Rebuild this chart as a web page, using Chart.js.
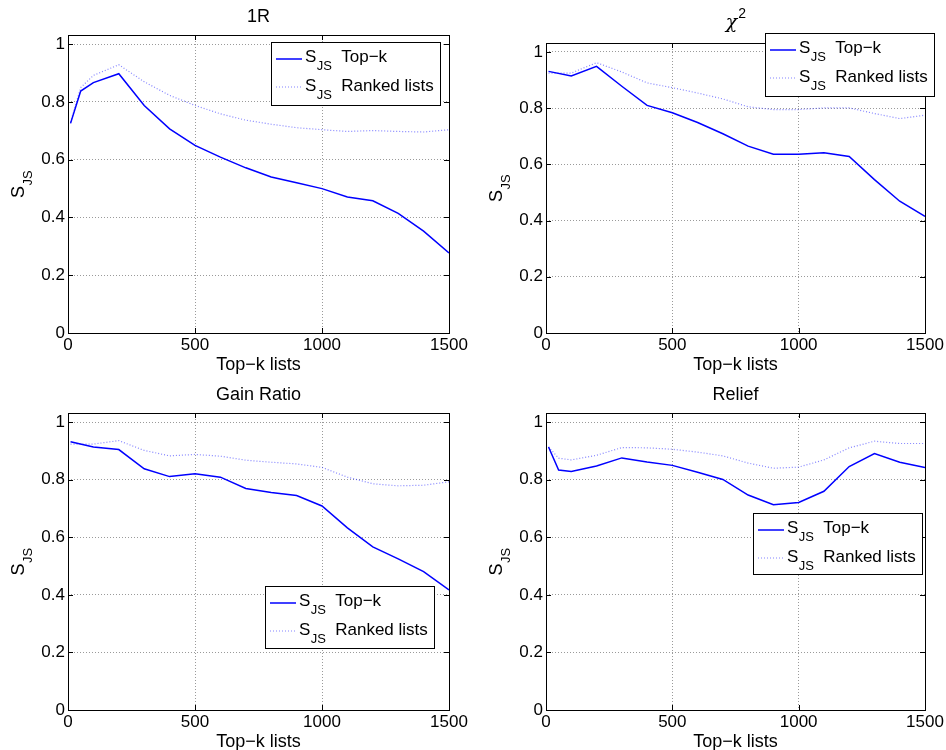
<!DOCTYPE html>
<html>
<head>
<meta charset="utf-8">
<title>S_JS</title>
<script src="https://cdn.jsdelivr.net/npm/chart.js@4.4.0/dist/chart.umd.min.js"></script>
<style>
body { margin: 0; background: #fff; }
#todo { position: relative; width: 946px; height: 750px; }
canvas { position: absolute; }
</style>
</head>
<body>
<div id="todo">
<canvas id="g1" width="473" height="375" style="left:0px;top:0px"></canvas>
<canvas id="g2" width="473" height="375" style="left:473px;top:0px"></canvas>
<canvas id="g3" width="473" height="375" style="left:0px;top:375px"></canvas>
<canvas id="g4" width="473" height="375" style="left:473px;top:375px"></canvas>
</div>
<script>
"use strict";

////////////////////////////////////////////////////// datos
const kLargo = [10, 50, 100, 200, 300, 400, 500, 600, 700, 800, 900, 1000, 1100, 1200, 1300, 1400, 1500];
const kCorto = [10, 100, 200, 300, 400, 500, 600, 700, 800, 900, 1000, 1100, 1200, 1300, 1400, 1500];

const topk1R = [0.726, 0.838, 0.867, 0.898, 0.788, 0.707, 0.650, 0.609, 0.572, 0.540, 0.520, 0.500, 0.471, 0.458, 0.414, 0.353, 0.277];
const rank1R = [0.730, 0.850, 0.892, 0.929, 0.870, 0.823, 0.788, 0.759, 0.737, 0.723, 0.711, 0.704, 0.698, 0.701, 0.698, 0.696, 0.704];

const topkChi = [0.931, 0.915, 0.949, 0.878, 0.810, 0.784, 0.749, 0.709, 0.665, 0.636, 0.636, 0.641, 0.628, 0.546, 0.469, 0.415];
const rankChi = [0.925, 0.925, 0.962, 0.929, 0.890, 0.873, 0.854, 0.833, 0.805, 0.795, 0.795, 0.801, 0.801, 0.781, 0.763, 0.775];

const topkGain = [0.932, 0.914, 0.905, 0.838, 0.811, 0.821, 0.809, 0.770, 0.756, 0.745, 0.709, 0.633, 0.567, 0.525, 0.481, 0.417];
const rankGain = [0.924, 0.924, 0.936, 0.902, 0.883, 0.888, 0.882, 0.868, 0.861, 0.855, 0.843, 0.809, 0.786, 0.779, 0.781, 0.793];

const topkRelief = [0.914, 0.834, 0.829, 0.848, 0.876, 0.862, 0.850, 0.826, 0.801, 0.747, 0.713, 0.721, 0.760, 0.846, 0.891, 0.861, 0.843];
const rankRelief = [0.914, 0.875, 0.869, 0.885, 0.912, 0.911, 0.906, 0.896, 0.883, 0.858, 0.840, 0.844, 0.869, 0.911, 0.934, 0.926, 0.926];

const ticksX = [0, 500, 1000, 1500];
const ticksY = [0, 0.2, 0.4, 0.6, 0.8, 1];
const nombreTopk = " Top\u2212k";
const nombreRank = " Ranked lists";
const tituloX = "Top\u2212k lists";

////////////////////////////////////////////////////// paneles (posicion del area y de la leyenda)
const paneles = [
    { id: "g1", titulo: "1R", k: kLargo, topk: topk1R, rank: rank1R,
      area: { l: 68, r: 449, t: 35, b: 333 }, tituloY: 22, ejeXY: 370, leyenda: { x: 271, y: 42, w: 169, h: 63 } },
    { id: "g2", titulo: "\u03C7", sup: "2", k: kCorto, topk: topkChi, rank: rankChi,
      area: { l: 73, r: 452, t: 43, b: 333 }, tituloY: 28, ejeXY: 370, leyenda: { x: 292, y: 33, w: 169, h: 63 } },
    { id: "g3", titulo: "Gain Ratio", k: kCorto, topk: topkGain, rank: rankGain,
      area: { l: 68, r: 449, t: 38, b: 335 }, tituloY: 25, ejeXY: 372, leyenda: { x: 265, y: 211, w: 169, h: 62 } },
    { id: "g4", titulo: "Relief", k: kLargo, topk: topkRelief, rank: rankRelief,
      area: { l: 73, r: 452, t: 38, b: 335 }, tituloY: 25, ejeXY: 372, leyenda: { x: 280, y: 138, w: 169, h: 61 } },
];

const fuente = '"Liberation Sans", Arial, Helvetica, sans-serif';
const azul = "#0000ff";
const azulPunteado = "rgba(50, 50, 255, 0.6)";

// S con subindice JS y el resto del texto
function textoSJS(ctx, x, y, resto, tam) {
    ctx.textAlign = "left";
    ctx.textBaseline = "alphabetic";
    ctx.font = tam + "px " + fuente;
    ctx.fillText("S", x, y);
    x += ctx.measureText("S").width;
    ctx.font = "13px " + fuente;
    ctx.fillText("JS", x + 0.5, y + 8);
    x += ctx.measureText("JS").width + 1;
    if (resto) {
        ctx.font = tam + "px " + fuente;
        ctx.fillText(resto, x + 4, y);
    }
}
function anchoSJS(ctx, tam) {
    ctx.font = tam + "px " + fuente;
    let w = ctx.measureText("S").width;
    ctx.font = "13px " + fuente;
    return w + ctx.measureText("JS").width + 1;
}

////////////////////////////////////////////////////// plugin: caja, marcas, titulos, leyenda
const marco = {
    id: "marco",
    afterDraw(chart, args, p) {
        const ctx = chart.ctx;
        const a = chart.chartArea;
        const sx = chart.scales.x, sy = chart.scales.y;
        ctx.save();
        ctx.strokeStyle = "#000";
        ctx.lineWidth = 1;
        ctx.strokeRect(a.left + 0.5, a.top + 0.5, a.right - a.left, a.bottom - a.top);
        // marcas hacia dentro
        ctx.beginPath();
        ticksY.forEach((v) => {
            const py = Math.round(sy.getPixelForValue(v)) + 0.5;
            ctx.moveTo(a.left, py); ctx.lineTo(a.left + 5, py);
            ctx.moveTo(a.right, py); ctx.lineTo(a.right - 5, py);
        });
        ticksX.forEach((v) => {
            const px = Math.round(sx.getPixelForValue(v)) + 0.5;
            ctx.moveTo(px, a.bottom); ctx.lineTo(px, a.bottom - 5);
            ctx.moveTo(px, a.top); ctx.lineTo(px, a.top + 5);
        });
        ctx.stroke();

        const cx = (a.left + a.right) / 2;
        ctx.fillStyle = "#000";
        ctx.textBaseline = "alphabetic";
        // titulo
        if (p.sup) {
            ctx.font = 'italic 19px "DejaVu Serif", serif';
            const w1 = ctx.measureText(p.titulo).width;
            ctx.font = "14px " + fuente;
            const w2 = ctx.measureText(p.sup).width;
            const x0 = cx - (w1 + w2) / 2;
            ctx.textAlign = "left";
            ctx.font = 'italic 19px "DejaVu Serif", serif';
            ctx.fillText(p.titulo, x0, p.tituloY);
            ctx.font = "14px " + fuente;
            ctx.fillText(p.sup, x0 + w1 + 1, p.tituloY - 10);
        } else {
            ctx.font = "18px " + fuente;
            ctx.textAlign = "center";
            ctx.fillText(p.titulo, cx, p.tituloY);
        }
        // titulo eje x
        ctx.textAlign = "center";
        ctx.font = "18px " + fuente;
        ctx.fillText(tituloX, cx, p.ejeXY);
        // titulo eje y (girado)
        const cy = (a.top + a.bottom) / 2;
        const w = anchoSJS(ctx, 18);
        ctx.save();
        ctx.translate(a.left - 44, cy + w / 2);
        ctx.rotate(-Math.PI / 2);
        textoSJS(ctx, 0, 0, null, 18);
        ctx.restore();

        // leyenda
        const L = p.leyenda;
        ctx.fillStyle = "#fff";
        ctx.fillRect(L.x, L.y, L.w, L.h);
        ctx.strokeStyle = "#000";
        ctx.lineWidth = 1;
        ctx.strokeRect(L.x + 0.5, L.y + 0.5, L.w, L.h);
        ctx.strokeStyle = azul;
        ctx.lineWidth = 1.5;
        ctx.beginPath();
        ctx.moveTo(L.x + 5, L.y + 17); ctx.lineTo(L.x + 31, L.y + 17);
        ctx.stroke();
        ctx.strokeStyle = azulPunteado;
        ctx.lineWidth = 1.2;
        ctx.setLineDash([1, 2]);
        ctx.beginPath();
        ctx.moveTo(L.x + 5, L.y + 45); ctx.lineTo(L.x + 31, L.y + 45);
        ctx.stroke();
        ctx.setLineDash([]);
        ctx.fillStyle = "#000";
        textoSJS(ctx, L.x + 34, L.y + 20, nombreTopk, 17);
        textoSJS(ctx, L.x + 34, L.y + 49, nombreRank, 17);
        ctx.restore();
    },
};

////////////////////////////////////////////////////// pintarPanel
function puntos(k, vals) {
    return k.map((x, i) => ({ x: x, y: vals[i] }));
}
function pintarPanel(p) {
    const ctx = document.getElementById(p.id).getContext("2d");
    new Chart(ctx, {
        type: "line",
        data: {
            datasets: [
                { label: "S_JS Top-k", data: puntos(p.k, p.topk), borderColor: azul, borderWidth: 1.5,
                  pointRadius: 0, tension: 0, fill: false },
                { label: "S_JS Ranked lists", data: puntos(p.k, p.rank), borderColor: azulPunteado, borderWidth: 1.2,
                  borderDash: [1, 2], pointRadius: 0, tension: 0, fill: false },
            ],
        },
        options: {
            responsive: false,
            animation: false,
            events: [],
            layout: { padding: { left: 0, top: p.area.t, right: 473 - p.area.r, bottom: 0 } },
            plugins: { legend: { display: false }, title: { display: false }, tooltip: { enabled: false }, marco: p },
            scales: {
                x: {
                    type: "linear", min: 0, max: 1500,
                    afterBuildTicks: (s) => { s.ticks = ticksX.map((v) => ({ value: v })); },
                    afterFit: (s) => { s.height = 375 - p.area.b; s.paddingLeft = 0; s.paddingRight = 0; },
                    grid: { color: "#9a9a9a", lineWidth: 1, drawTicks: false },
                    border: { display: false, dash: [1, 2] },
                    ticks: { color: "#000", font: { family: fuente, size: 17 }, padding: 2, maxRotation: 0, autoSkip: false,
                             callback: (v) => String(v) },
                },
                y: {
                    type: "linear", min: 0, max: 1.032,
                    afterBuildTicks: (s) => { s.ticks = ticksY.map((v) => ({ value: v })); },
                    afterFit: (s) => { s.width = p.area.l; s.paddingTop = 0; s.paddingBottom = 0; },
                    grid: { color: "#9a9a9a", lineWidth: 1, drawTicks: false },
                    border: { display: false, dash: [1, 2] },
                    ticks: { color: "#000", font: { family: fuente, size: 17 }, padding: 3,
                             callback: (v) => String(+v.toFixed(1)) },
                },
            },
        },
        plugins: [marco],
    });
}

////////////////////////////////////////////////////// MAIN
paneles.forEach(pintarPanel);
</script>
</body>
</html>
